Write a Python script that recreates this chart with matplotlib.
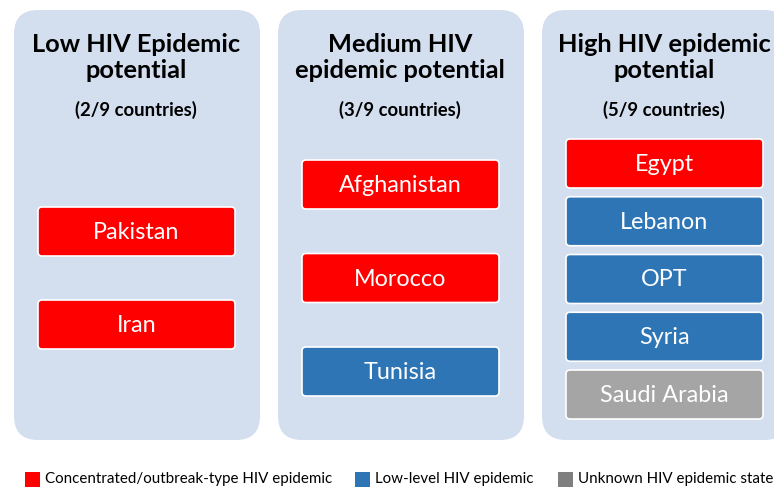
import matplotlib
matplotlib.use("Agg")
import matplotlib.pyplot as plt
from matplotlib.patches import FancyBboxPatch

plt.rcParams['font.family'] = ['Lato', 'DejaVu Sans']

# ---- data ----
panel_titles = ["Low HIV Epidemic\npotential", "Medium HIV\nepidemic potential", "High HIV epidemic\npotential"]
panel_counts = ["(2/9 countries)", "(3/9 countries)", "(5/9 countries)"]
low_countries = ["Pakistan", "Iran"]
low_status = ["concentrated", "concentrated"]
medium_countries = ["Afghanistan", "Morocco", "Tunisia"]
medium_status = ["concentrated", "concentrated", "low"]
high_countries = ["Egypt", "Lebanon", "OPT", "Syria", "Saudi Arabia"]
high_status = ["concentrated", "low", "low", "low", "unknown"]
legend_keys = ["concentrated", "low", "unknown"]
legend_labels = ["Concentrated/outbreak-type HIV epidemic", "Low-level HIV epidemic", "Unknown HIV epidemic state"]

status_colors = {"concentrated": "#FF0000", "low": "#2E75B6", "unknown": "#A5A5A5"}
legend_colors = {"concentrated": "#FF0000", "low": "#2E75B6", "unknown": "#7F7F7F"}
panel_color = "#D3DEEF"

W, H = 774, 488
fig = plt.figure(figsize=(W / 100, H / 100), dpi=100)
ax = fig.add_axes([0, 0, 1, 1])
ax.set_xlim(0, W)
ax.set_ylim(H, 0)
ax.axis("off")

panel_x = [14, 278, 542]
panel_w = 246
panel_top, panel_bot = 10, 440
box_w = 197
box_h = 49
# vertical layout per panel: first box top and step
layouts = [(207, 93), (160, 93.5), (139, 57.75)]
groups = [(low_countries, low_status), (medium_countries, medium_status), (high_countries, high_status)]

for i in range(3):
    x0 = panel_x[i]
    r = 24
    p = FancyBboxPatch((x0 + r, panel_top + r), panel_w - 2 * r, panel_bot - panel_top - 2 * r,
                       boxstyle=f"round,pad={r}", fc=panel_color, ec="none", zorder=1)
    ax.add_patch(p)
    cx = x0 + panel_w / 2 - 1
    ax.text(cx, 57.5, panel_titles[i], ha="center", va="center", fontsize=18.3, fontweight="bold",
            linespacing=1.2, color="black", zorder=3)
    ax.text(cx, 110, panel_counts[i], ha="center", va="center", fontsize=13.3, fontweight="bold",
            color="black", zorder=3)
    names, stats = groups[i]
    top0, step = layouts[i]
    bx = x0 + 24
    for j, (n, s) in enumerate(zip(names, stats)):
        by = top0 + j * step
        rb = 4
        b = FancyBboxPatch((bx + rb, by + rb), box_w - 2 * rb, box_h - 2 * rb,
                           boxstyle=f"round,pad={rb}", fc=status_colors[s], ec="white", lw=1.2, zorder=2)
        ax.add_patch(b)
        ax.text(bx + box_w / 2, by + box_h / 2 + 1, n, ha="center", va="center", fontsize=16.8,
                color="white", zorder=3)

leg_x = [25, 355, 558]
for k, key in enumerate(legend_keys):
    ax.add_patch(plt.Rectangle((leg_x[k], 472), 15, 15, fc=legend_colors[key], ec="none", zorder=2))
    ax.text(leg_x[k] + 20, 479.5, legend_labels[k], ha="left", va="center", fontsize=10.9, color="black", zorder=3)

fig.savefig("out.png", dpi=100)
